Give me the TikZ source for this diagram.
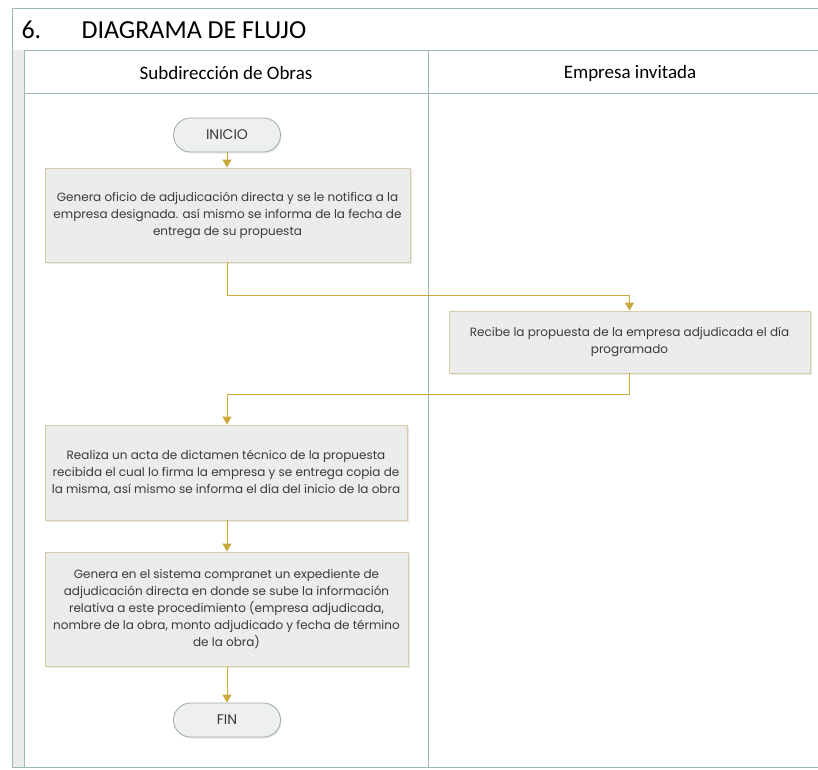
\documentclass[tikz,border=0pt]{standalone}
\usepackage{fontspec}
\setmainfont{Poppins}
\newfontfamily\headfont{Carlito}
\usetikzlibrary{arrows.meta,shadows}

\definecolor{frameline}{HTML}{9BB9AE}
\definecolor{boxfill}{HTML}{EBEBEB}
\definecolor{boxedge}{HTML}{D6CDA6}
\definecolor{flowline}{HTML}{CBA93C}
\definecolor{termfill}{HTML}{EEF0EE}
\definecolor{termedge}{HTML}{9AACA5}
\definecolor{striped}{HTML}{F3F3F3}
\definecolor{txt}{HTML}{3A3A3A}

\tikzset{
  stripes/.style={path picture={
      \foreach \k in {-60,...,60}
        \draw[striped,line width=0.6pt]
          ([xshift=\k*8pt]path picture bounding box.north west)
          -- ++(120pt,-120pt);}},
  taskbox/.style={draw=boxedge,line width=0.8pt,fill=boxfill,stripes,
      align=center,font=\fontsize{12}{17}\selectfont,text=txt,
      drop shadow={opacity=0.18,shadow xshift=1.5pt,shadow yshift=-2pt}},
  terminal/.style={draw=termedge,line width=0.8pt,fill=termfill,
      rounded corners=17pt,minimum width=107pt,minimum height=34pt,
      font=\fontsize{14}{16}\selectfont,text=txt,
      drop shadow={opacity=0.15,shadow xshift=1pt,shadow yshift=-1.5pt}},
  flow/.style={draw=flowline,line width=1pt,-{Triangle[length=8pt,width=9pt]}},
  border/.style={draw=frameline,line width=1pt},
  lanehead/.style={font=\headfont\fontsize{19}{22}\selectfont,text=black}
}

\begin{document}
\begin{tikzpicture}[x=1pt,y=-1pt]
\useasboundingbox (0,0) rectangle (818,769);
\fill[white] (0,0) rectangle (818,769);

% title band
\draw[border] (818,8) -- (12,8) -- (12,50) -- (818,50);
\node[anchor=west,font=\headfont\fontsize{26}{28}\selectfont] (num) at (18,30) {6.};
\node[anchor=west,font=\headfont\fontsize{26}{28}\selectfont] (title) at (78,30) {DIAGRAMA DE FLUJO};

% pool strip on the left
\fill[boxfill] (12,50) rectangle (24,767);
\begin{scope}
  \clip (12,50) rectangle (24,767);
  \foreach \k in {0,...,95}
    \draw[striped,line width=0.6pt] (12,50+\k*8) -- ++(14,14);
\end{scope}
\draw[border] (12,50) -- (12,767);
\draw[border] (24,50) -- (24,767);

% lanes
\draw[border] (24,93) -- (818,93);
\draw[border] (428,50) -- (428,767);
\draw[border] (12,767) -- (818,767);
\node[lanehead] (laneA) at (226,73) {Subdirección de Obras};
\node[lanehead] (laneB) at (630,73) {Empresa invitada};

% steps
\node[terminal] (inicio) at (227,135) {INICIO};
\node[taskbox,minimum width=365pt,minimum height=94pt] (s1) at (227.5,215)
  {Genera oficio de adjudicación directa y se le notifica a la\\
   empresa designada. así mismo se informa de la fecha de\\
   entrega de su propuesta};
\node[taskbox,minimum width=361pt,minimum height=62pt] (s2) at (629.5,342)
  {Recibe la propuesta de la empresa adjudicada el día\\ programado};
\node[taskbox,minimum width=362pt,minimum height=95pt] (s3) at (226,472.5)
  {Realiza un acta de dictamen técnico de la propuesta\\
   recibida el cual lo firma la empresa y se entrega copia de\\
   la misma, así mismo se informa el día del inicio de la obra};
\node[taskbox,minimum width=363pt,minimum height=114pt] (s4) at (226.5,609)
  {Genera en el sistema compranet un expediente de\\
   adjudicación directa en donde se sube la información\\
   relativa a este procedimiento (empresa adjudicada,\\
   nombre de la obra, monto adjudicado y fecha de término\\
   de la obra)};
\node[terminal] (fin) at (227,720) {FIN};

% connectors
\draw[flow] (inicio.south) -- (s1.north -| inicio.south);
\draw[flow] (s1.south) -- ++(0,33) -| (s2.north);
\draw[flow] (s2.south) -- ++(0,21) -| (s3.north -| inicio.south);
\draw[flow] (s3.south -| inicio.south) -- (s4.north -| inicio.south);
\draw[flow] (s4.south -| inicio.south) -- (fin.north);
\end{tikzpicture}
\end{document}
